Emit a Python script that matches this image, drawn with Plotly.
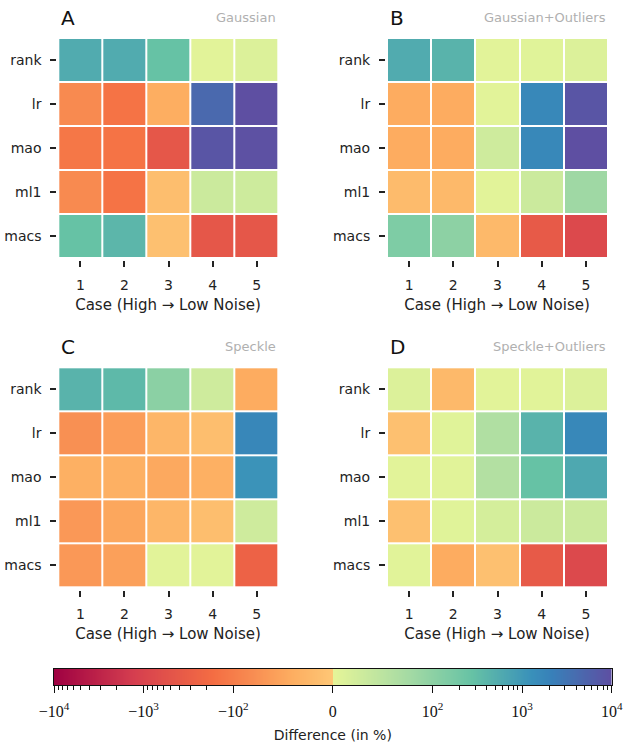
import numpy as np
import plotly.graph_objects as go

# ---------------- data ----------------
methods = ["rank", "lr", "mao", "ml1", "macs"]
cases = ["1", "2", "3", "4", "5"]

panel_letters = ["A", "B", "C", "D"]
panel_names = ["Gaussian", "Gaussian+Outliers", "Speckle", "Speckle+Outliers"]

# difference (in %), rows = methods, cols = cases
gaussian = [
    [569, 569, 278, 5, 12],
    [-84, -139, -40, 4390, 10000],
    [-123, -139, -446, 8360, 9500],
    [-84, -139, -14, 32, 30],
    [278, 398, -11, -446, -446],
]
gaussian_outliers = [
    [569, 436, 5, 7, 12],
    [-42, -42, 5, 1670, 8360],
    [-42, -42, 28, 1670, 10000],
    [-19, -22, 5, 32, 82],
    [149, 100, -22, -378, -804],
]
speckle = [
    [436, 362, 105, 28, -42],
    [-77, -61, -26, -14, 1700],
    [-37, -37, -46, -37, 1190],
    [-67, -49, -26, -14, 28],
    [-67, -58, 5, 5, -267],
]
speckle_outliers = [
    [12, -22, 5, 6, 12],
    [-11, 7, 63, 436, 1670],
    [5, 6, 60, 278, 624],
    [-11, 7, 21, 32, 32],
    [6, -42, -11, -378, -804],
]
panels = [gaussian, gaussian_outliers, speckle, speckle_outliers]

cbar_major = [-1e4, -1e3, -1e2, 0, 1e2, 1e3, 1e4]
cbar_major_text = ["−10<sup>4</sup>", "−10<sup>3</sup>", "−10<sup>2</sup>", "0",
                   "10<sup>2</sup>", "10<sup>3</sup>", "10<sup>4</sup>"]
cbar_minor = [s * k * d for s in (-1, 1) for d in (100, 1000) for k in range(2, 10)]

# ---------------- symlog scale (linthresh=100, linscale=1) ----------------
VMIN, VMAX = -1e4, 1e4
LINTHRESH = 100.0
LINSCALE_ADJ = 1.0 / (1.0 - 1.0 / 10.0)


def symlog(x):
    x = np.asarray(x, dtype=float)
    a = np.abs(x)
    with np.errstate(divide="ignore", invalid="ignore"):
        out = np.sign(x) * LINTHRESH * (LINSCALE_ADJ + np.log10(a / LINTHRESH))
    inside = a <= LINTHRESH
    out = np.where(inside, x * LINSCALE_ADJ, out)
    return out


T_MIN, T_MAX = float(symlog(VMIN)), float(symlog(VMAX))


def norm(x):
    return (symlog(x) - T_MIN) / (T_MAX - T_MIN)


# ---------------- colour scale (Spectral with centre removed) ----------------
spectral = [(158, 1, 66), (213, 62, 79), (244, 109, 67), (253, 174, 97), (254, 224, 139),
            (255, 255, 191), (230, 245, 152), (171, 221, 164), (102, 194, 165),
            (50, 136, 189), (94, 79, 162)]


def spec(s):
    s = min(max(s, 0.0), 1.0) * 10
    i = min(int(np.floor(s)), 9)
    f = s - i
    c = [spectral[i][k] * (1 - f) + spectral[i + 1][k] * f for k in range(3)]
    return "rgb(%d,%d,%d)" % tuple(round(v) for v in c)


LEFT_END, RIGHT_START = 0.35, 0.60
colorscale = []
for n in np.linspace(0, 0.5, 15):
    colorscale.append([float(n), spec(n / 0.5 * LEFT_END)])
for n in np.linspace(0.5, 1.0, 15):
    pos = float(n) if n > 0.5 else 0.500001
    colorscale.append([pos, spec(RIGHT_START + (n - 0.5) / 0.5 * (1 - RIGHT_START))])

# ---------------- layout geometry (pixels) ----------------
W, H = 624, 745
FONT = "DejaVu Sans"


def px_x(v):
    return v / W


def px_y(v):
    return 1 - v / H


# grid extents (left, right, top, bottom) in px
grids = [
    (58.3, 278.7, 38.0, 258.0),
    (387.0, 608.0, 38.0, 258.0),
    (58.3, 278.7, 367.3, 587.5),
    (387.0, 608.0, 367.3, 587.5),
]
LEFT_GAP = 1.0
BOTTOM_GAP = 2.0

fig = go.Figure()

for p, (data, (gl, gr, gt, gb)) in enumerate(zip(panels, grids)):
    idx = "" if p == 0 else str(p + 1)
    z = norm(data)
    fig.add_trace(go.Heatmap(
        z=z, x=cases, y=methods, customdata=np.asarray(data),
        zmin=0, zmax=1, colorscale=colorscale, showscale=False,
        xgap=2, ygap=2, xaxis="x" + idx, yaxis="y" + idx,
        hovertemplate="case %{x}<br>%{y}: %{customdata}%<extra></extra>",
    ))
    cw = (gr - gl) / 5
    ch = (gb - gt) / 5
    fig.update_layout(**{
        "xaxis" + idx: dict(
            domain=[px_x(gl - LEFT_GAP), px_x(gr)],
            range=[-0.5 - LEFT_GAP / cw, 4.5],
            anchor="y" + idx, showgrid=False, zeroline=False, showline=False,
            automargin=False,
            ticks="outside", ticklen=6, tickwidth=1.5, tickcolor="#222",
            tickfont=dict(family=FONT, size=14, color="#222"),
            ticklabelstandoff=6,
            title=dict(text="Case (High → Low Noise)", standoff=7,
                       font=dict(family=FONT, size=15, color="#222")),
            fixedrange=True,
        ),
        "yaxis" + idx: dict(
            domain=[px_y(gb + BOTTOM_GAP), px_y(gt)],
            range=[4.5 + BOTTOM_GAP / ch, -0.5],
            anchor="x" + idx, showgrid=False, zeroline=False, showline=False,
            automargin=False,
            ticks="outside", ticklen=6, tickwidth=1.5, tickcolor="#222",
            tickfont=dict(family=FONT, size=14, color="#222"),
            ticklabelstandoff=6,
            fixedrange=True,
        ),
    })
    ty = px_y(gt - 20.5)
    fig.add_annotation(text=panel_letters[p], xref="paper", yref="paper",
                       x=px_x(gl + 0.5), y=ty, xanchor="left", yanchor="middle",
                       showarrow=False, font=dict(family=FONT, size=20, color="#111"))
    fig.add_annotation(text=panel_names[p], xref="paper", yref="paper",
                       x=px_x(gr - 0.5), y=ty, xanchor="right", yanchor="middle",
                       showarrow=False, font=dict(family=FONT, size=13, color="#b0b0b0"))

# ---------------- colour bar drawn on its own axes ----------------
cb_t = np.linspace(T_MIN, T_MAX, 1201)
fig.add_trace(go.Heatmap(
    z=[((cb_t - T_MIN) / (T_MAX - T_MIN)).tolist()], x=cb_t.tolist(), y=[0.5],
    zmin=0, zmax=1, colorscale=colorscale, showscale=False,
    xaxis="x5", yaxis="y5", hoverinfo="skip",
))
fig.update_layout(
    xaxis5=dict(
        domain=[px_x(54), px_x(611.7)], range=[T_MIN, T_MAX], anchor="y5",
        automargin=False,
        tickmode="array", tickvals=symlog(cbar_major).tolist(), ticktext=cbar_major_text,
        ticks="outside", ticklen=7, tickwidth=1.2, tickcolor="#111",
        minor=dict(tickmode="array", tickvals=symlog(cbar_minor).tolist(),
                   ticks="outside", ticklen=4, tickwidth=1, tickcolor="#111"),
        showline=True, mirror=True, linecolor="#111", linewidth=1,
        showgrid=False, zeroline=False,
        tickfont=dict(family="Liberation Serif", size=16, color="#111"),
        ticklabelstandoff=5,
        title=dict(text="Difference (in %)", standoff=10,
                   font=dict(family=FONT, size=14, color="#222")),
        fixedrange=True,
    ),
    yaxis5=dict(
        domain=[px_y(685), px_y(669)], range=[0, 1], anchor="x5",
        automargin=False,
        showticklabels=False, ticks="", showgrid=False, zeroline=False,
        showline=True, mirror=True, linecolor="#111", linewidth=1,
        fixedrange=True,
    ),
)

fig.update_layout(
    width=W, height=H,
    margin=dict(l=0, r=0, t=0, b=0),
    paper_bgcolor="white", plot_bgcolor="white",
    showlegend=False,
    font=dict(family=FONT, color="#222"),
)

fig.write_html("out.html", config={"displayModeBar": False},
               post_script="document.body.style.margin='0';document.body.style.overflow='hidden';")
